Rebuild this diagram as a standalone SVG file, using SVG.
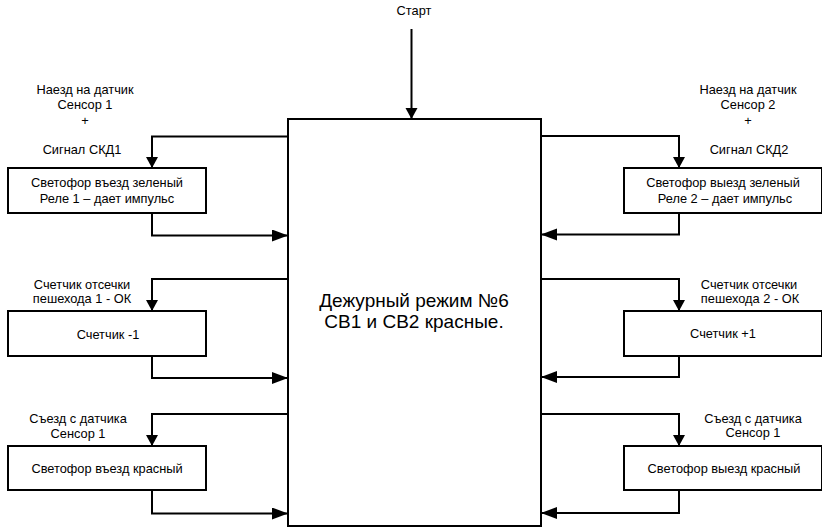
<svg xmlns="http://www.w3.org/2000/svg" width="822" height="529" viewBox="0 0 822 529">
<defs>
<style>
.box{fill:#fff;stroke:#000;stroke-width:2}
.ln{fill:none;stroke:#000;stroke-width:2}
text{font-family:"Liberation Sans",Arial,sans-serif;font-size:12.8px;fill:#000;text-anchor:middle}
.big{font-size:19px}
</style>
<marker id="ah" markerUnits="userSpaceOnUse" markerWidth="18" markerHeight="14" refX="16" refY="6" orient="auto">
<path d="M0,0 L16,6 L0,12 Z" fill="#000"/>
</marker>
<marker id="av" markerUnits="userSpaceOnUse" markerWidth="14" markerHeight="14" refX="11" refY="6" orient="auto">
<path d="M0,0 L11,6 L0,12 Z" fill="#000"/>
</marker>
</defs>
<rect width="822" height="529" fill="#fff"/>

<g id="connectors">
<path class="ln" d="M411.5,29 V119" marker-end="url(#av)"/>
<path class="ln" d="M288,136.5 H152 V168" marker-end="url(#av)"/>
<path class="ln" d="M152,213 V235.5 H288" marker-end="url(#ah)"/>
<path class="ln" d="M288,279 H152 V311" marker-end="url(#av)"/>
<path class="ln" d="M152,356 V378 H288" marker-end="url(#ah)"/>
<path class="ln" d="M288,414 H152 V446" marker-end="url(#av)"/>
<path class="ln" d="M152,490 V513.5 H288" marker-end="url(#ah)"/>
<path class="ln" d="M541,136 H679 V168" marker-end="url(#av)"/>
<path class="ln" d="M679,213 V234.5 H541" marker-end="url(#ah)"/>
<path class="ln" d="M541,279 H679 V311" marker-end="url(#av)"/>
<path class="ln" d="M679,356 V377 H541" marker-end="url(#ah)"/>
<path class="ln" d="M541,414 H679 V446" marker-end="url(#av)"/>
<path class="ln" d="M679,490 V513 H541" marker-end="url(#ah)"/>
</g>

<g id="start">
<text x="414" y="15">Старт</text>
</g>

<g id="main">
<rect class="box" x="288" y="119" width="253" height="407"/>
<text class="big" x="414" y="307">Дежурный режим №6</text>
<text class="big" x="414" y="328">СВ1 и СВ2 красные.</text>
</g>

<g id="label-l1">
<text x="85" y="94">Наезд на датчик</text>
<text x="85" y="109">Сенсор 1</text>
<text x="85" y="125">+</text>
<text x="82" y="154">Сигнал СКД1</text>
</g>
<g id="box-l1">
<rect class="box" x="8" y="168" width="198" height="45"/>
<text x="107" y="187">Светофор въезд зеленый</text>
<text x="107" y="202.5">Реле 1 – дает импульс</text>
</g>

<g id="label-l2">
<text x="82" y="289">Счетчик отсечки</text>
<text x="82" y="303">пешехода 1 - ОК</text>
</g>
<g id="box-l2">
<rect class="box" x="8" y="311" width="198" height="45"/>
<text x="108" y="338.5">Счетчик -1</text>
</g>

<g id="label-l3">
<text x="78" y="422.5">Съезд с датчика</text>
<text x="78" y="437.5">Сенсор 1</text>
</g>
<g id="box-l3">
<rect class="box" x="8" y="446" width="198" height="44"/>
<text x="107" y="472.5">Светофор въезд красный</text>
</g>

<g id="label-r1">
<text x="748" y="94">Наезд на датчик</text>
<text x="748" y="109">Сенсор 2</text>
<text x="748" y="125">+</text>
<text x="749" y="154">Сигнал СКД2</text>
</g>
<g id="box-r1">
<rect class="box" x="624" y="168" width="198" height="45"/>
<text x="723" y="187">Светофор выезд зеленый</text>
<text x="725" y="202.5">Реле 2 – дает импульс</text>
</g>

<g id="label-r2">
<text x="749" y="288.5">Счетчик отсечки</text>
<text x="750" y="303">пешехода 2 - ОК</text>
</g>
<g id="box-r2">
<rect class="box" x="624" y="311" width="198" height="45"/>
<text x="723" y="337.5">Счетчик +1</text>
</g>

<g id="label-r3">
<text x="753" y="422.5">Съезд с датчика</text>
<text x="753" y="437">Сенсор 1</text>
</g>
<g id="box-r3">
<rect class="box" x="624" y="446" width="198" height="44"/>
<text x="724" y="472.5">Светофор выезд красный</text>
</g>
</svg>
